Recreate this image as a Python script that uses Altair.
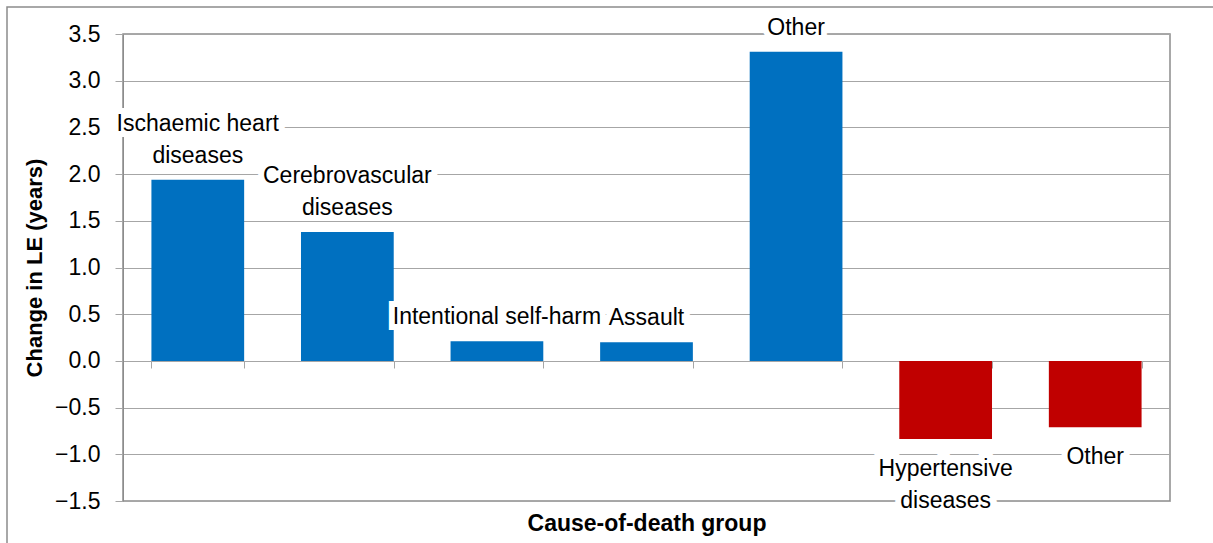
import altair as alt
import pandas as pd

# Contribution of each cause-of-death group to the change in life expectancy
slots = [1, 2, 3, 4, 5, 6, 7]
labels = [
    "Ischaemic heart\ndiseases",
    "Cerebrovascular\ndiseases",
    "Intentional self-harm",
    "Assault",
    "Other",
    "Hypertensive\ndiseases",
    "Other",
]
change = [1.94, 1.38, 0.21, 0.20, 3.31, -0.835, -0.71]
colors = ["#0070C0", "#0070C0", "#0070C0", "#0070C0", "#0070C0", "#C00000", "#C00000"]
y_ticks = [-1.5, -1.0, -0.5, 0.0, 0.5, 1.0, 1.5, 2.0, 2.5, 3.0, 3.5]

df = pd.DataFrame({"slot": slots, "label": labels, "change": change, "color": colors})
df["pos"] = df["change"] >= 0
df["nlines"] = [s.count("\n") + 1 for s in labels]

FONT = "Liberation Sans"
GRID = "#a6a6a6"
AXIS = "#8c8c8c"
LINE_H = 32

x_enc = alt.X(
    "slot:O",
    sort=slots,
    scale=alt.Scale(paddingInner=0.38, paddingOuter=0.19),
    axis=alt.Axis(
        title="Cause-of-death group",
        titleFont=FONT,
        titleFontSize=23,
        titleFontWeight="bold",
        titleColor="#000000",
        titlePadding=144,
        labels=False,
        domain=False,
        ticks=True,
        tickBand="extent",
        tickSize=7,
        tickColor=GRID,
        offset=-140,
        grid=False,
    ),
)

y_enc = alt.Y(
    "change:Q",
    scale=alt.Scale(domain=[-1.5, 3.5], nice=False, zero=True),
    axis=alt.Axis(
        title="Change in LE (years)",
        titleFont=FONT,
        titleFontSize=22,
        titleFontWeight="bold",
        titleColor="#000000",
        titlePadding=8,
        values=y_ticks,
        format=".1f",
        labelFont=FONT,
        labelFontSize=23,
        labelColor="#000000",
        labelPadding=15,
        tickSize=8,
        tickColor=GRID,
        domainColor=AXIS,
        grid=True,
        gridColor=GRID,
        gridWidth=1,
    ),
)

base = alt.Chart(df)

bars = base.mark_bar().encode(
    x=x_enc,
    y=y_enc,
    y2=alt.datum(0),
    color=alt.Color("color:N", scale=None),
)

text_props = dict(font=FONT, fontSize=23, align="center", lineBreak="\n", lineHeight=LINE_H)
enc = dict(x=alt.X("slot:O", sort=slots), y="change:Q", text="label:N")


def label_layers(filter_expr, baseline, dy):
    sub = base.transform_filter(filter_expr)
    halo = sub.mark_text(baseline=baseline, dy=dy, color="white", stroke="white",
                         strokeWidth=12, **text_props).encode(**enc)
    ink = sub.mark_text(baseline=baseline, dy=dy, color="#000000", **text_props).encode(**enc)
    return halo, ink


# Labels sit just beyond the end of each bar; multi-line ones above a bar are lifted by a line
h1, t1 = label_layers("datum.pos && datum.nlines == 1", "bottom", -12)
h2, t2 = label_layers("datum.pos && datum.nlines == 2", "bottom", -12 - LINE_H)
h3, t3 = label_layers("!datum.pos", "top", 19)

# Outer frame around the whole figure
frame = alt.Chart(pd.DataFrame({"k": [0]})).mark_rect(
    fillOpacity=0, stroke="#8c8c8c", strokeWidth=1.5, clip=False
).encode(
    x=alt.value(-116), x2=alt.value(1100),
    y=alt.value(-27), y2=alt.value(540),
)

chart = alt.layer(frame, bars, h1, h2, h3, t1, t2, t3).properties(
    width=1047,
    height=467,
    autosize=alt.AutoSizeParams(type="none"),
    padding={"left": 123, "top": 34, "right": 43, "bottom": 42},
    background="white",
).configure_view(stroke=AXIS, strokeWidth=1.5)

chart.save("out.html", embed_options={"renderer": "svg", "actions": False})
